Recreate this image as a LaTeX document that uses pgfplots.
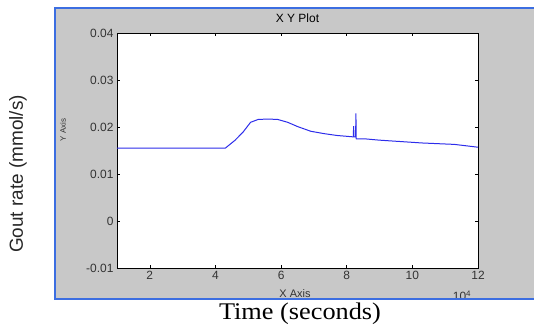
\documentclass[border=0pt]{standalone}
\usepackage{pgfplots}
\pgfplotsset{compat=1.18}
\usepackage{fontspec}
\setmainfont{Liberation Sans}
\newfontfamily\seriffont{Liberation Serif}
\definecolor{panel}{RGB}{200,200,200}
\definecolor{border}{RGB}{60,110,225}
\definecolor{linecol}{RGB}{45,45,235}
\begin{document}
\begin{tikzpicture}[x=1bp,y=1bp]
\path[use as bounding box] (-117,-59) rectangle (417,268);
\fill[panel] (-62,-31) rectangle (420,260);
\begin{axis}[
  at={(0,0)}, anchor=south west,
  scale only axis, width=361bp, height=235bp,
  xmin=1, xmax=12, ymin=-0.01, ymax=0.04,
  xtick={2,4,6,8,10,12},
  ytick={-0.01,0,0.01,0.02,0.03,0.04},
  yticklabels={-0.01,0,0.01,0.02,0.03,0.04},
  xticklabels={2,4,6,8,10,12},
  scaled x ticks=false, scaled y ticks=false,
  tick align=inside, major tick length=3bp,
  tick style={black, line width=0.5pt},
  axis line style={black, line width=0.8pt},
  axis background/.style={fill=white},
  ticklabel style={font=\fontsize{12}{14}\selectfont, text=black!80},
  /pgf/number format/assume math mode=true,
  title={X Y Plot}, title style={font=\fontsize{12}{14}\selectfont, at={(0.5,1)}, yshift=1bp},
  clip=true,
]
\addplot[linecol, line width=1pt] coordinates {
(1,0.0155) (4.3,0.0155) (4.6,0.0172) (4.85,0.0190) (5.07,0.0210) (5.3,0.0216)
(5.6,0.0217) (5.9,0.0216) (6.2,0.0210) (6.5,0.0201) (6.9,0.0191) (7.3,0.0186)
(7.7,0.0182) (8.2,0.0179) (8.21,0.0202) (8.22,0.0179) (8.27,0.0179) (8.28,0.0229)
(8.29,0.01745) (8.6,0.01745) (9.0,0.0172) (9.65,0.0169) (10.3,0.0166)
(11.28,0.0163) (12,0.0157)
};
\end{axis}
\node[font=\fontsize{11}{13}\selectfont, text=black!80] at (178,-26) {X Axis};
\node[font=\fontsize{12}{14}\selectfont, text=black!80] at (345,-28) {10\textsuperscript{4}};
\node[font=\fontsize{8}{10}\selectfont, rotate=90, text=black!80] at (-54,138) {Y Axis};
\fill[white] (-117,-59) rectangle (420,-31);
\draw[border, line width=1.3pt] (420,-31) -- (-62,-31) -- (-62,260) -- (420,260);
\node[font=\seriffont\fontsize{24}{28}\selectfont] at (183,-46) {\scalebox{1.1}[1]{Time (seconds)}};
\node[font=\fontsize{19}{22}\selectfont, rotate=90, text=black!85] at (-99,94) {Gout rate (mmol/s)};
\end{tikzpicture}
\end{document}
